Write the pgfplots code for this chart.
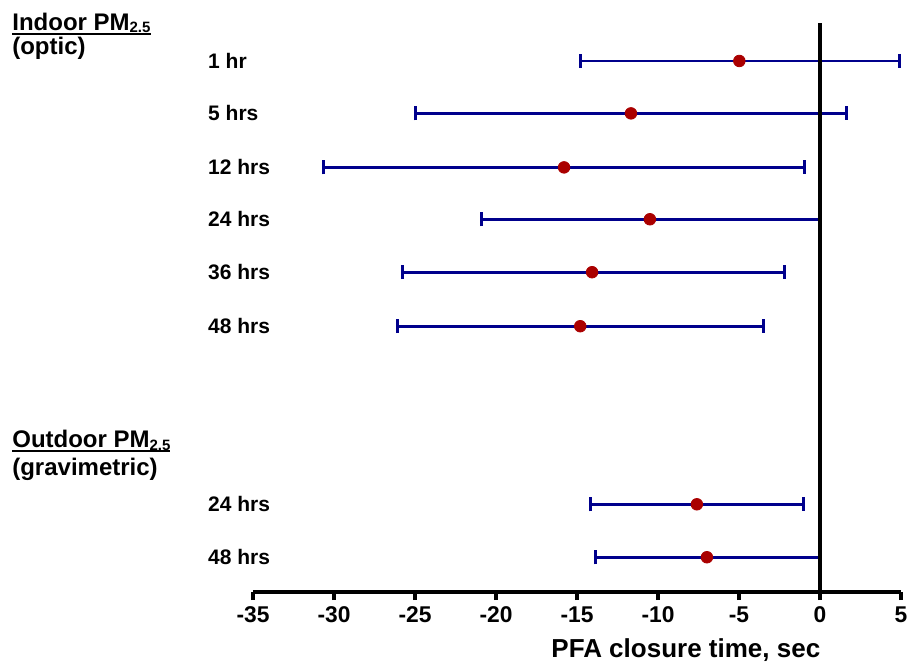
\documentclass[border=0pt]{standalone}
\usepackage{pgfplots}
\pgfplotsset{compat=1.18}
\usepackage{fontspec}
\setmainfont{Liberation Sans}
\definecolor{barblue}{RGB}{0,0,140}
\definecolor{dotred}{RGB}{170,0,0}
\newcommand{\sub}[1]{\smash{\raisebox{-1.2pt}{\fontsize{7.5}{8}\selectfont #1}}}
\newcommand{\ul}[1]{\setbox0\hbox{#1}\rlap{\rule[-2.2pt]{\wd0}{1pt}}\box0}
\begin{document}
\begin{tikzpicture}
\begin{axis}[
  scale only axis,
  width=324pt, height=284.5pt,
  xmin=-35, xmax=5, ymin=0, ymax=10.64,
  axis x line*=bottom,
  axis y line=none,
  x axis line style={line width=1.7pt},
  xtick={-35,-30,...,5},
  tick align=outside,
  major tick length=4pt,
  every tick/.style={black, line width=1.7pt},
  /pgf/number format/assume math mode=true,
  tick label style={font=\fontsize{11.4}{13}\selectfont\bfseries},
  xlabel={PFA closure time, sec},
  xlabel style={at={(rel axis cs:0.668,0)}, anchor=base, yshift=-32.5pt,
    font=\fontsize{13}{15}\selectfont\bfseries},
  clip=false,
]
% x  y  plus  minus
\addplot[only marks, mark=*, mark size=2.9pt, color=dotred,
  error bars/.cd, x dir=both, x explicit,
  error bar style={color=barblue, line width=1.3pt},
  error mark options={color=barblue, line width=1.5pt, mark size=3.5pt, rotate=90}]
  table[x=x, y=y, x error plus=ep, x error minus=em] {
  x      y     ep     em
  -4.98  9.93  9.86   9.79
  -11.67 8.95  13.32  13.27
  -15.80 7.94  14.87  14.86
  -10.50 6.97  10.50  10.40
  -14.07 5.98  11.87  11.73
  -14.80 4.97  11.34  11.27
  -7.60  1.64  6.61   6.54
  -6.98  0.65  6.98   6.85
};
\draw[line width=2pt, black] (axis cs:0,0) -- (axis cs:0,10.64);
\begin{scope}[font=\fontsize{10.5}{12}\selectfont\bfseries]
\node[anchor=west] at (axis cs:-38.2,9.93) {1 hr};
\node[anchor=west] at (axis cs:-38.2,8.95) {5 hrs};
\node[anchor=west] at (axis cs:-38.2,7.94) {12 hrs};
\node[anchor=west] at (axis cs:-38.2,6.97) {24 hrs};
\node[anchor=west] at (axis cs:-38.2,5.98) {36 hrs};
\node[anchor=west] at (axis cs:-38.2,4.97) {48 hrs};
\node[anchor=west] at (axis cs:-38.2,1.64) {24 hrs};
\node[anchor=west] at (axis cs:-38.2,0.65) {48 hrs};
\end{scope}
\begin{scope}[font=\fontsize{12}{13}\selectfont\bfseries]
\node[anchor=base west, inner sep=0pt] at (axis cs:-49.88,10.50) {\ul{Indoor PM\sub{2.5}}};
\node[anchor=base west, inner sep=0pt] at (axis cs:-49.88,10.05) {(optic)};
\node[anchor=base west, inner sep=0pt] at (axis cs:-49.88,2.70) {\ul{Outdoor PM\sub{2.5}}};
\node[anchor=base west, inner sep=0pt] at (axis cs:-49.88,2.18) {(gravimetric)};
\end{scope}
\coordinate (O) at (rel axis cs:0,0);
\end{axis}
\pgfresetboundingbox
\path[use as bounding box] ([shift={(-126.5pt,-37pt)}]O) rectangle ([shift={(328pt,296pt)}]O);
\end{tikzpicture}
\end{document}
